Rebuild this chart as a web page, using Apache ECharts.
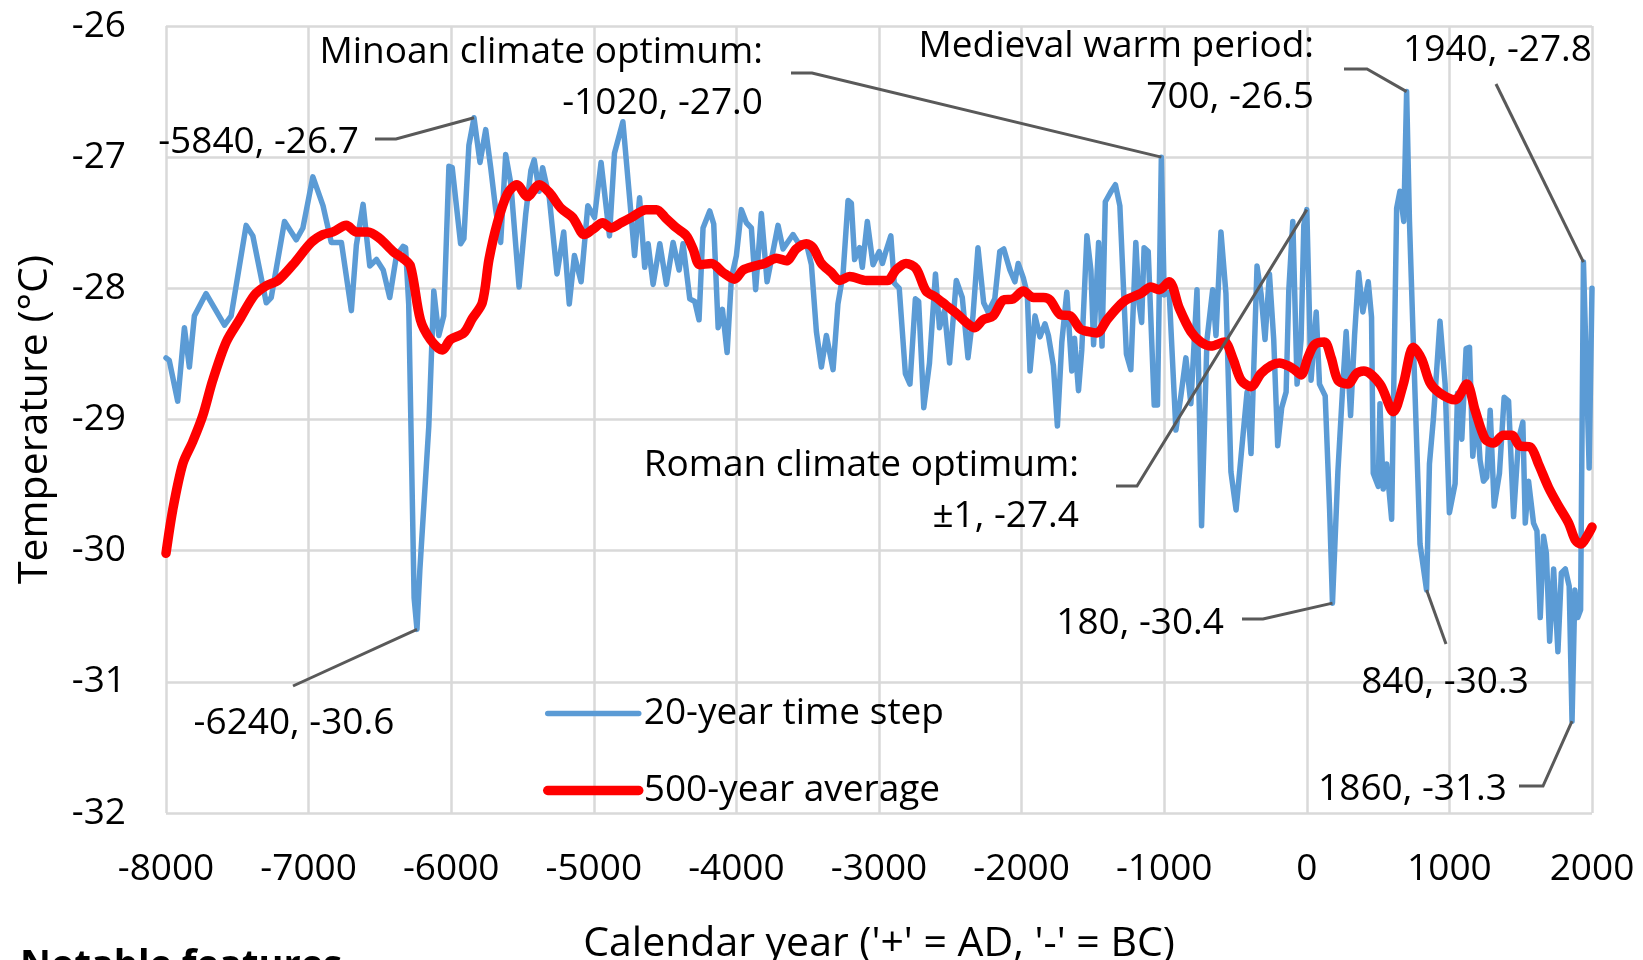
<!DOCTYPE html>
<html>
<head>
<meta charset="utf-8">
<script src="https://cdn.jsdelivr.net/npm/echarts@6/dist/echarts.min.js"></script>
<style>
  html, body { margin: 0; padding: 0; background: #fff; }
  #chart { width: 1643px; height: 960px; }
</style>
</head>
<body>
<div id="chart"></div>
<script>
// 20-year time step (year, °C)
const stepYears = [
  -8000, -7977, -7918, -7871, -7836, -7801, -7719, -7590, -7543, -7438,
  -7391, -7297, -7262, -7169, -7087, -7040, -6970, -6899, -6841, -6770,
  -6700, -6665, -6618, -6571, -6524, -6477, -6431, -6384, -6337, -6320,
  -6298, -6260, -6240, -6220, -6157, -6122, -6087, -6052, -6016, -5993,
  -5934, -5911, -5876, -5840, -5798, -5758, -5723, -5688, -5653, -5618,
  -5582, -5524, -5477, -5441, -5418, -5383, -5359, -5312, -5258, -5211,
  -5172, -5136, -5089, -5042, -4995, -4949, -4890, -4855, -4796, -4749,
  -4714, -4679, -4643, -4619, -4584, -4537, -4491, -4444, -4402, -4374,
  -4327, -4292, -4262, -4234, -4187, -4159, -4128, -4098, -4065, -4035,
  -4000, -3965, -3930, -3895, -3865, -3825, -3785, -3708, -3673, -3603,
  -3568, -3509, -3474, -3439, -3404, -3369, -3322, -3288, -3252, -3217,
  -3194, -3171, -3136, -3117, -3082, -3042, -2999, -2976, -2952, -2917,
  -2893, -2858, -2815, -2783, -2745, -2722, -2686, -2646, -2604, -2576,
  -2541, -2505, -2458, -2416, -2376, -2341, -2306, -2266, -2235, -2188,
  -2153, -2125, -2082, -2047, -2024, -1988, -1960, -1941, -1906, -1871,
  -1836, -1812, -1777, -1749, -1718, -1683, -1648, -1629, -1601, -1578,
  -1542, -1514, -1495, -1460, -1436, -1413, -1377, -1342, -1311, -1265,
  -1234, -1199, -1176, -1158, -1141, -1112, -1070, -1047, -1020, -1000,
  -965, -918, -883, -848, -813, -770, -738, -700, -660, -637,
  -602, -567, -532, -496, -461, -419, -391, -349, -321, -293,
  -262, -232, -204, -176, -145, -126, -98, -68, -40, -21,
  0, 30, 66, 89, 129, 160, 180, 218, 253, 276,
  307, 335, 363, 393, 431, 454, 466, 501, 513, 536,
  560, 595, 630, 653, 680, 700, 720, 747, 794, 840,
  860, 888, 934, 970, 1000, 1040, 1057, 1087, 1117, 1141,
  1164, 1192, 1215, 1239, 1262, 1286, 1314, 1351, 1384, 1415,
  1450, 1485, 1515, 1532, 1555, 1590, 1614, 1637, 1660, 1680,
  1703, 1731, 1761, 1785, 1813, 1840, 1860, 1880, 1900, 1920,
  1940, 1980, 2000
];
const stepTemps = [
  -28.53, -28.55, -28.86, -28.30, -28.60, -28.21, -28.04, -28.28, -28.21, -27.52,
  -27.60, -28.11, -28.07, -27.49, -27.63, -27.54, -27.15, -27.37, -27.65, -27.65,
  -28.17, -27.67, -27.36, -27.83, -27.78, -27.86, -28.07, -27.75, -27.68, -27.69,
  -28.12, -30.36, -30.60, -30.15, -29.05, -28.02, -28.36, -28.21, -27.07, -27.08,
  -27.66, -27.62, -26.91, -26.70, -27.04, -26.79, -27.08, -27.40, -27.65, -26.98,
  -27.20, -27.99, -27.43, -27.10, -27.02, -27.26, -27.08, -27.31, -27.89, -27.57,
  -28.12, -27.75, -27.95, -27.37, -27.46, -27.04, -27.60, -26.97, -26.73, -27.31,
  -27.75, -27.31, -27.84, -27.66, -27.97, -27.66, -27.97, -27.65, -27.86, -27.66,
  -28.08, -28.10, -28.24, -27.54, -27.41, -27.51, -28.30, -28.16, -28.49, -27.92,
  -27.75, -27.40, -27.50, -27.54, -28.01, -27.43, -27.95, -27.52, -27.70, -27.59,
  -27.65, -27.66, -27.82, -28.33, -28.60, -28.36, -28.62, -28.12, -27.89, -27.33,
  -27.35, -27.78, -27.69, -27.84, -27.49, -27.82, -27.72, -27.81, -27.72, -27.60,
  -27.96, -28.00, -28.65, -28.73, -28.08, -28.10, -28.91, -28.57, -27.89, -28.30,
  -28.17, -28.57, -27.94, -28.07, -28.53, -28.21, -27.69, -28.11, -28.18, -28.08,
  -27.72, -27.70, -27.86, -27.95, -27.81, -27.92, -28.04, -28.63, -28.21, -28.37,
  -28.27, -28.36, -28.59, -29.05, -28.41, -28.03, -28.63, -28.38, -28.78, -28.47,
  -27.60, -27.86, -28.43, -27.65, -28.44, -27.34, -27.27, -27.21, -27.37, -28.50,
  -28.62, -27.65, -28.12, -28.26, -27.69, -27.72, -28.89, -28.89, -27.00, -28.05,
  -28.03, -29.08, -28.82, -28.53, -28.88, -28.01, -29.81, -28.39, -28.01, -28.36,
  -27.57, -28.04, -29.40, -29.69, -29.28, -28.79, -29.26, -27.83, -28.04, -28.39,
  -27.89, -28.39, -29.20, -28.91, -28.79, -28.01, -27.49, -28.73, -28.39, -27.52,
  -27.40, -28.70, -28.18, -28.73, -28.82, -29.69, -30.40, -29.40, -28.73, -28.33,
  -28.97, -28.36, -27.88, -28.18, -27.95, -28.22, -29.41, -29.51, -28.88, -29.53,
  -29.34, -29.76, -27.39, -27.26, -27.49, -26.50, -27.49, -28.41, -29.95, -30.30,
  -29.34, -28.99, -28.25, -28.73, -29.71, -29.49, -28.80, -29.15, -28.46, -28.45,
  -29.28, -28.93, -29.31, -29.47, -29.44, -28.93, -29.66, -29.41, -28.83, -28.86,
  -29.74, -29.15, -29.02, -29.79, -29.47, -29.79, -29.85, -30.51, -29.89, -30.02,
  -30.69, -30.14, -30.77, -30.17, -30.14, -30.27, -31.30, -30.30, -30.51, -30.45,
  -27.80, -29.37, -28.00
];

// 500-year average
const avgYears = [
  -8000, -7953, -7883, -7813, -7742, -7672, -7578, -7485, -7379, -7297,
  -7215, -7110, -6981, -6899, -6829, -6735, -6665, -6583, -6501, -6407,
  -6340, -6286, -6216, -6146, -6063, -6005, -5911, -5852, -5782, -5735,
  -5676, -5606, -5540, -5465, -5383, -5312, -5230, -5148, -5066, -5007,
  -4937, -4878, -4808, -4737, -4632, -4561, -4491, -4420, -4350, -4304,
  -4257, -4175, -4093, -4012, -3953, -3872, -3801, -3720, -3650, -3580,
  -3509, -3463, -3404, -3334, -3276, -3206, -3089, -2999, -2940, -2881,
  -2811, -2740, -2670, -2599, -2529, -2447, -2388, -2329, -2270, -2200,
  -2129, -2059, -1988, -1918, -1847, -1800, -1730, -1659, -1589, -1530,
  -1471, -1401, -1330, -1270, -1164, -1094, -1035, -965, -895, -813,
  -742, -672, -578, -520, -461, -391, -321, -251, -192, -133,
  -87, -40, 7, 54, 124, 171, 218, 288, 347, 400,
  513, 607, 677, 747, 806, 864, 934, 1040, 1122, 1180,
  1251, 1309, 1379, 1438, 1492, 1567, 1625, 1696, 1766, 1836,
  1883, 1923, 1965, 2000
];
const avgTemps = [
  -30.02, -29.69, -29.34, -29.17, -28.97, -28.70, -28.41, -28.24, -28.05, -27.98,
  -27.94, -27.82, -27.65, -27.59, -27.57, -27.52, -27.57, -27.57, -27.62, -27.72,
  -27.77, -27.83, -28.24, -28.39, -28.47, -28.39, -28.34, -28.23, -28.11, -27.78,
  -27.50, -27.28, -27.21, -27.30, -27.21, -27.27, -27.39, -27.46, -27.59, -27.55,
  -27.50, -27.54, -27.50, -27.46, -27.40, -27.40, -27.47, -27.54, -27.60, -27.70,
  -27.82, -27.81, -27.88, -27.93, -27.86, -27.83, -27.81, -27.77, -27.79, -27.70,
  -27.66, -27.69, -27.81, -27.88, -27.94, -27.91, -27.94, -27.94, -27.94, -27.86,
  -27.81, -27.85, -28.02, -28.07, -28.13, -28.20, -28.26, -28.30, -28.24, -28.21,
  -28.09, -28.08, -28.02, -28.07, -28.07, -28.09, -28.20, -28.21, -28.31, -28.33,
  -28.34, -28.24, -28.15, -28.09, -28.04, -27.99, -28.01, -27.95, -28.15, -28.33,
  -28.41, -28.44, -28.41, -28.53, -28.70, -28.75, -28.65, -28.59, -28.57, -28.59,
  -28.62, -28.66, -28.53, -28.43, -28.41, -28.53, -28.70, -28.73, -28.65, -28.63,
  -28.73, -28.94, -28.73, -28.45, -28.54, -28.72, -28.80, -28.85, -28.73, -28.93,
  -29.15, -29.18, -29.12, -29.12, -29.20, -29.21, -29.34, -29.52, -29.66, -29.79,
  -29.92, -29.95, -29.89, -29.82
];

// labelled points
const noteYears = [-5840, -6240, -1020, 700, 1940, 0, 180, 840, 1860];
const noteTemps = [-26.7, -30.6, -27.0, -26.5, -27.8, -27.4, -30.4, -30.3, -31.3];
const noteLabels = [
  '-5840, -26.7',
  '-6240, -30.6',
  'Minoan climate optimum:\n-1020, -27.0',
  'Medieval warm period:\n700, -26.5',
  '1940, -27.8',
  'Roman climate optimum:\n±1, -27.4',
  '180, -30.4',
  '840, -30.3',
  '1860, -31.3'
];

const FONT = '"Open Sans", "Noto Sans", sans-serif';

// where each label text sits and where its leader leaves it (px)
const noteLayout = [
  { x: 359, y: 142, align: 'right', start: [375, 139], elbow: [396, 139] },
  { x: 294, y: 723, align: 'center', start: [293, 686], elbow: [293, 686] },
  { x: 763, y: 78, align: 'right', start: [791, 73], elbow: [812, 73] },
  { x: 1314, y: 72, align: 'right', start: [1344, 69], elbow: [1367, 69] },
  { x: 1592, y: 50, align: 'right', start: [1496, 84], elbow: [1496, 84] },
  { x: 1079, y: 491, align: 'right', start: [1116, 486], elbow: [1137, 486] },
  { x: 1224, y: 623, align: 'right', start: [1242, 619], elbow: [1263, 619] },
  { x: 1445, y: 682, align: 'center', start: [1446, 644], elbow: [1446, 644] },
  { x: 1507, y: 789, align: 'right', start: [1519, 786], elbow: [1543, 786] }
];

function pairs(xs, ys) {
  return xs.map((x, i) => [x, ys[i]]);
}

const chart = echarts.init(document.getElementById('chart'));

const option = {
  animation: false,
  backgroundColor: '#fff',
  grid: {
    left: 166, right: 51, top: 26, bottom: 147,
    containLabel: false,
    outerBoundsMode: 'none'
  },
  legend: {
    data: [
      { name: '20-year time step', lineStyle: { width: 5.5, cap: 'round' } },
      { name: '500-year average', lineStyle: { width: 9.5, cap: 'round' } }
    ],
    orient: 'vertical',
    left: 538,
    top: 690,
    itemWidth: 91,
    itemHeight: 20,
    itemGap: 40,
    itemStyle: { opacity: 0 },
    textStyle: { color: '#000', fontSize: 37, fontFamily: FONT }
  },
  xAxis: {
    type: 'value',
    min: -8000,
    max: 2000,
    interval: 1000,
    name: "Calendar year ('+' = AD, '-' = BC)",
    nameLocation: 'middle',
    nameGap: 111,
    nameTextStyle: { color: '#000', fontSize: 41, fontFamily: FONT },
    axisLine: { show: false },
    axisTick: { show: false },
    axisLabel: {
      color: '#000', fontSize: 37, fontFamily: FONT, margin: 38,
      formatter: function (v) { return String(v); }
    },
    splitLine: { show: true, lineStyle: { color: '#d9d9d9', width: 2.5 } }
  },
  yAxis: {
    type: 'value',
    min: -32,
    max: -26,
    interval: 1,
    name: 'Temperature (°C)',
    nameLocation: 'middle',
    nameGap: 110,
    nameTextStyle: { color: '#000', fontSize: 41, fontFamily: FONT },
    axisLine: { show: false },
    axisTick: { show: false },
    axisLabel: { color: '#000', fontSize: 37, fontFamily: FONT, margin: 40 },
    splitLine: { show: true, lineStyle: { color: '#d9d9d9', width: 2.5 } }
  },
  series: [
    {
      name: '20-year time step',
      type: 'line',
      data: pairs(stepYears, stepTemps),
      symbol: 'none',
      z: 2,
      lineStyle: { color: '#5b9bd5', width: 5.5, join: 'round', cap: 'round' },
      itemStyle: { color: '#5b9bd5' }
    },
    {
      name: '500-year average',
      type: 'line',
      data: pairs(avgYears, avgTemps),
      symbol: 'none',
      smooth: 0.3,
      z: 3,
      lineStyle: { color: '#ff0000', width: 9.5, join: 'round', cap: 'round' },
      itemStyle: { color: '#ff0000' }
    },
    {
      name: 'notes',
      type: 'custom',
      clip: false,
      z: 4,
      data: pairs(noteYears, noteTemps),
      renderItem: function (params, api) {
        const i = params.dataIndex;
        const p = api.coord([api.value(0), api.value(1)]);
        const L = noteLayout[i];
        return {
          type: 'group',
          children: [
            {
              type: 'polyline',
              shape: { points: [L.start, L.elbow, p] },
              style: { stroke: '#595959', lineWidth: 3, fill: null }
            },
            {
              type: 'text',
              x: L.x,
              y: L.y,
              style: {
                text: noteLabels[i],
                align: L.align,
                verticalAlign: 'middle',
                lineHeight: 51,
                fontSize: 37,
                fontFamily: FONT,
                fill: '#000'
              }
            }
          ]
        };
      }
    }
  ],
  graphic: [
    {
      type: 'text',
      left: 20,
      top: 947,
      style: { text: 'Notable features', fontSize: 38, fontWeight: 'bold', fontFamily: FONT, fill: '#000' }
    }
  ]
};

chart.setOption(option);
</script>
</body>
</html>
